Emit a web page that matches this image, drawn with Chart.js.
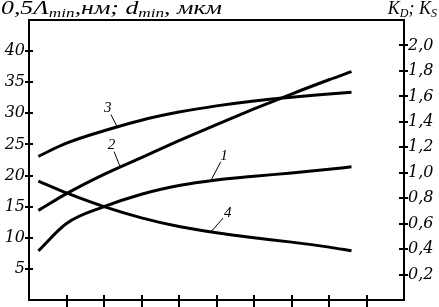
<!DOCTYPE html>
<html>
<head>
<meta charset="utf-8">
<script src="https://cdn.jsdelivr.net/npm/chart.js@4.4.1/dist/chart.umd.min.js"></script>
<style>
  html, body { margin: 0; padding: 0; background: #fff; }
  canvas { display: block; }
</style>
</head>
<body>
<canvas id="chart" width="439" height="307"></canvas>
<script>
// Абсцисса без подписей (0..10), значения кривых — по левой шкале
const xValues = [0.25, 1, 2, 3, 4, 5, 6, 7, 8, 8.6];
const curve1 = [7.9, 12.3, 15.0, 17.0, 18.4, 19.3, 19.9, 20.4, 21.0, 21.4];
const curve2 = [14.4, 17.1, 20.2, 22.9, 25.6, 28.2, 30.7, 33.1, 35.4, 36.7];
const curve3 = [23.1, 25.2, 27.2, 28.9, 30.2, 31.2, 32.0, 32.6, 33.1, 33.4];
const curve4 = [19.1, 17.2, 15.0, 13.2, 11.8, 10.8, 10.0, 9.3, 8.5, 7.9];

const xTicks = [1, 2, 3, 4, 5, 6, 7, 8, 9];
const leftTicks = [5, 10, 15, 20, 25, 30, 35, 40];
const rightTicks = [0.2, 0.4, 0.6, 0.8, 1.0, 1.2, 1.4, 1.6, 1.8, 2.0];

// Номера кривых: текст, точка текста и точка на кривой (в единицах осей)
const curveLabels = [
  { text: "1", at: [5.2, 23.2], to: [4.85, 19.2] },
  { text: "2", at: [2.2, 24.9], to: [2.43, 21.4] },
  { text: "3", at: [2.1, 30.8], to: [2.37, 27.6] },
  { text: "4", at: [5.3, 14.0], to: [4.85, 10.95] }
];

const SERIF = "'Liberation Serif', 'Times New Roman', serif";
const WIDE = "'DejaVu Serif', serif";
const tickFont = { family: WIDE, style: "italic", size: 16 };

const toPoints = ys => ys.map((y, i) => ({ x: xValues[i], y }));

function curve(ys) {
  return {
    data: toPoints(ys),
    borderColor: "#000",
    borderWidth: 3,
    pointRadius: 0,
    fill: false,
    cubicInterpolationMode: "monotone",
    yAxisID: "y"
  };
}

// рамка + засечки, пересекающие оси
const framePlugin = {
  id: "frame",
  afterDraw(chart) {
    const { ctx, chartArea: a, scales } = chart;
    ctx.save();
    ctx.strokeStyle = "#000";
    ctx.lineWidth = 2;
    ctx.strokeRect(a.left, a.top, a.right - a.left, a.bottom - a.top);
    ctx.beginPath();
    xTicks.forEach(v => {
      const p = Math.round(scales.x.getPixelForValue(v));
      ctx.moveTo(p, a.bottom - 5); ctx.lineTo(p, a.bottom + 7);
    });
    leftTicks.forEach(v => {
      const p = Math.round(scales.y.getPixelForValue(v));
      ctx.moveTo(a.left - 4, p); ctx.lineTo(a.left + 4, p);
    });
    rightTicks.forEach(v => {
      const p = Math.round(scales.y2.getPixelForValue(v));
      ctx.moveTo(a.right - 5, p); ctx.lineTo(a.right + 4, p);
    });
    ctx.stroke();

    // номера кривых с выносками
    ctx.lineWidth = 1;
    ctx.fillStyle = "#000";
    ctx.font = "italic 15px " + SERIF;
    ctx.textAlign = "center";
    ctx.textBaseline = "middle";
    curveLabels.forEach(l => {
      const tx = scales.x.getPixelForValue(l.at[0]);
      const ty = scales.y.getPixelForValue(l.at[1]);
      const ex = scales.x.getPixelForValue(l.to[0]);
      const ey = scales.y.getPixelForValue(l.to[1]);
      ctx.fillText(l.text, tx, ty);
      const dx = ex - tx, dy = ey - ty;
      const len = Math.hypot(dx, dy);
      ctx.beginPath();
      ctx.moveTo(tx + dx / len * 7, ty + dy / len * 7);
      ctx.lineTo(ex, ey);
      ctx.stroke();
    });

    // подписи осей (левая растянута по ширине, как в оригинале)
    ctx.textAlign = "left";
    ctx.textBaseline = "alphabetic";
    const left = [["0,5Λ"], ["min", 1], [",нм; d"], ["min", 1], [", мкм"]];
    drawRich(ctx, left, 1, 14, 221);
    const right = [["K"], ["D", 1], ["; K"], ["S", 1]];
    drawRich(ctx, right, 437 - measureRich(ctx, right), 14);
    ctx.restore();
  }
};

function setFont(ctx, sub) {
  ctx.font = sub ? "italic 12px " + SERIF : "italic 18px " + SERIF;
}

function measureRich(ctx, parts) {
  return parts.reduce((w, [t, sub]) => { setFont(ctx, sub); return w + ctx.measureText(t).width; }, 0);
}

function drawRich(ctx, parts, x, y, width) {
  const k = width ? width / measureRich(ctx, parts) : 1;
  ctx.save();
  ctx.translate(x, y);
  ctx.scale(k, 1);
  let cx = 0;
  parts.forEach(([t, sub]) => {
    setFont(ctx, sub);
    ctx.fillText(t, cx, sub ? 3 : 0);
    cx += ctx.measureText(t).width;
  });
  ctx.restore();
}

const noPad = s => { s.paddingTop = 0; s.paddingBottom = 0; s.paddingLeft = 0; s.paddingRight = 0; };

new Chart(document.getElementById("chart"), {
  type: "line",
  data: { datasets: [curve(curve1), curve(curve2), curve(curve3), curve(curve4)] },
  options: {
    responsive: false,
    animation: false,
    layout: { padding: { top: 20, left: 0, right: 0, bottom: 0 } },
    plugins: { legend: { display: false }, tooltip: { enabled: false } },
    scales: {
      x: {
        type: "linear", min: 0, max: 10,
        afterBuildTicks: s => { s.ticks = xTicks.map(v => ({ value: v })); },
        ticks: { display: false },
        grid: { display: false, drawTicks: false },
        border: { display: false },
        afterFit: s => { s.height = 7; noPad(s); }
      },
      y: {
        position: "left", min: 0, max: 45,
        afterBuildTicks: s => { s.ticks = leftTicks.map(v => ({ value: v })); },
        ticks: { font: tickFont, color: "#000", padding: 4 },
        grid: { display: false, drawTicks: false },
        border: { display: false },
        afterFit: s => { s.width = 29; noPad(s); }
      },
      y2: {
        position: "right", min: 0, max: 2.2,
        afterBuildTicks: s => { s.ticks = rightTicks.map(v => ({ value: v })); },
        ticks: {
          font: tickFont, color: "#000", padding: 4,
          callback: v => v.toFixed(1).replace(".", ",")
        },
        grid: { display: false, drawTicks: false },
        border: { display: false },
        afterFit: s => { s.width = 35; noPad(s); }
      }
    }
  },
  plugins: [framePlugin]
});
</script>
</body>
</html>
